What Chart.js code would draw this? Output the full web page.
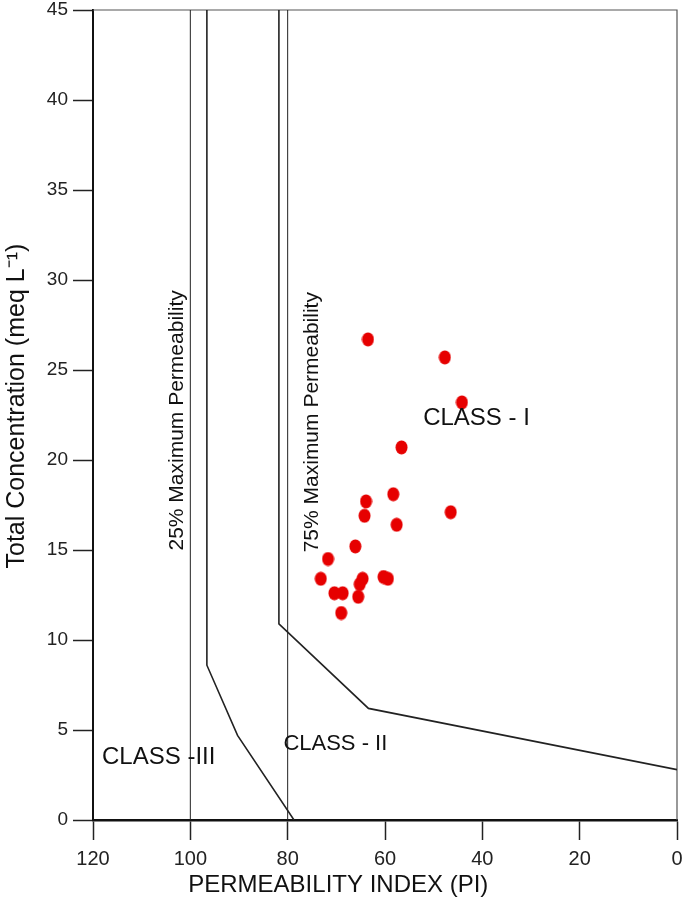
<!DOCTYPE html>
<html>
<head>
<meta charset="utf-8">
<script src="https://cdn.jsdelivr.net/npm/chart.js@4.4.1/dist/chart.umd.min.js"></script>
<style>
  html, body { margin: 0; padding: 0; background: #fff; }
  #wrap { width: 685px; height: 910px; }
</style>
</head>
<body>
<div id="wrap"><canvas id="piChart" width="685" height="910"></canvas></div>
<script>
// sample points
const samplePI   = [63.5, 47.7, 44.2, 56.6, 58.3, 63.9, 46.5, 64.2, 57.6, 66.1, 71.7, 73.2, 64.6, 65.2, 60.3, 59.4, 70.4, 68.7, 65.5, 69.0];
const sampleConc = [26.7, 25.7, 23.2, 20.7, 18.1, 17.7, 17.1, 16.9, 16.4, 15.2, 14.5, 13.4, 13.4, 13.1, 13.5, 13.4, 12.6, 12.6, 12.4, 11.5];

// class boundary curves
const curve25PI   = [96.6, 96.6, 90.3, 78.7];
const curve25Conc = [45, 8.6, 4.7, 0];
const curve75PI   = [81.8, 81.8, 63.4, 0];
const curve75Conc = [45, 10.9, 6.2, 2.8];

// straight reference lines at PI = 100 and PI = 80
const refLinePI = [100, 80];
const concRange = [0, 45];

const xTicks = [120, 100, 80, 60, 40, 20, 0];
const yTicks = [0, 5, 10, 15, 20, 25, 30, 35, 40, 45];

const xTitle = 'PERMEABILITY INDEX (PI)';
const yTitle = 'Total Concentration (meq L\u207B\u00B9)';

// labels inside the plot: [text, PI, conc, rotated, font size]
const plotLabels = [
  ['CLASS - I', 41.2, 22.3, false, 24],
  ['CLASS - II', 70.2, 4.2, false, 22],
  ['CLASS -III', 106.5, 3.5, false, 24],
  ['25% Maximum Permeability', 102.8, 22.2, true, 21],
  ['75% Maximum Permeability', 74.9, 22.1, true, 21]
];

const toXY = (xs, ys) => xs.map((x, i) => ({ x: x, y: ys[i] }));

// red oval marker
const marker = document.createElement('canvas');
marker.width = 13;
marker.height = 15;
const mctx = marker.getContext('2d');
mctx.fillStyle = '#e60000';
mctx.beginPath();
mctx.ellipse(6.5, 7.5, 6, 7, 0, 0, Math.PI * 2);
mctx.fill();

const lineSet = (data, width) => ({
  data: data,
  showLine: true,
  borderColor: '#222',
  borderWidth: width,
  pointRadius: 0,
  fill: false,
  tension: 0
});

const datasets = [
  {
    data: toXY(samplePI, sampleConc),
    pointStyle: marker,
    pointRadius: 7,
    showLine: false
  },
  lineSet(toXY(curve25PI, curve25Conc), 1.6),
  lineSet(toXY(curve75PI, curve75Conc), 1.6)
];
refLinePI.forEach(pi => {
  datasets.push(lineSet(toXY([pi, pi], concRange), 1));
});

const FONT = '"Liberation Sans", Arial, sans-serif';

const labelsPlugin = {
  id: 'plotLabels',
  beforeDatasetsDraw(chart) {
    const { ctx, chartArea: a } = chart;
    ctx.save();
    ctx.strokeStyle = '#555';
    ctx.lineWidth = 1.2;
    ctx.beginPath();
    ctx.moveTo(a.left, a.top);
    ctx.lineTo(a.right, a.top);
    ctx.lineTo(a.right, a.bottom);
    ctx.stroke();
    ctx.restore();
  },
  afterDatasetsDraw(chart) {
    const { ctx, scales, chartArea: a } = chart;
    ctx.save();
    ctx.fillStyle = '#111';
    ctx.textAlign = 'center';
    ctx.textBaseline = 'middle';
    plotLabels.forEach(([text, pi, conc, rotated, size]) => {
      const px = scales.x.getPixelForValue(pi);
      const py = scales.y.getPixelForValue(conc);
      ctx.save();
      ctx.translate(px, py);
      if (rotated) ctx.rotate(-Math.PI / 2);
      ctx.font = size + 'px ' + FONT;
      ctx.fillText(text, 0, 0);
      ctx.restore();
    });

    // axis titles (the originals sit a little off the plot centre)
    ctx.font = '24px ' + FONT;
    ctx.fillText(xTitle, a.left + (a.right - a.left) * 0.42, a.bottom + 65);
    ctx.save();
    ctx.translate(17, a.top + (a.bottom - a.top) * 0.489);
    ctx.rotate(-Math.PI / 2);
    ctx.font = '25px ' + FONT;
    ctx.fillText(yTitle, 0, 0);
    ctx.restore();
    ctx.restore();
  }
};

new Chart(document.getElementById('piChart'), {
  type: 'scatter',
  data: { datasets: datasets },
  options: {
    responsive: false,
    animation: false,
    layout: { padding: { top: 10, right: 7, left: 0, bottom: 0 } },
    plugins: { legend: { display: false }, tooltip: { enabled: false } },
    scales: {
      x: {
        type: 'linear',
        reverse: true,
        min: 0,
        max: 120,
        afterFit: s => { s.height = 90; s.paddingLeft = 0; s.paddingRight = 0; },
        afterBuildTicks: s => { s.ticks = xTicks.map(v => ({ value: v })); },
        ticks: { color: '#222', padding: 7, font: { size: 20, family: FONT } },
        grid: { drawOnChartArea: false, tickLength: 20, tickColor: '#222', tickWidth: 1.5 },
        border: { color: '#111', width: 2.5 }
      },
      y: {
        type: 'linear',
        min: 0,
        max: 45,
        afterFit: s => { s.width = 93; s.paddingTop = 0; s.paddingBottom = 0; },
        afterBuildTicks: s => { s.ticks = yTicks.map(v => ({ value: v })); },
        ticks: { color: '#222', padding: 5, font: { size: 19, family: FONT } },
        grid: { drawOnChartArea: false, tickLength: 20, tickColor: '#222', tickWidth: 1.5 },
        border: { color: '#111', width: 2 }
      }
    }
  },
  plugins: [labelsPlugin]
});
</script>
</body>
</html>
